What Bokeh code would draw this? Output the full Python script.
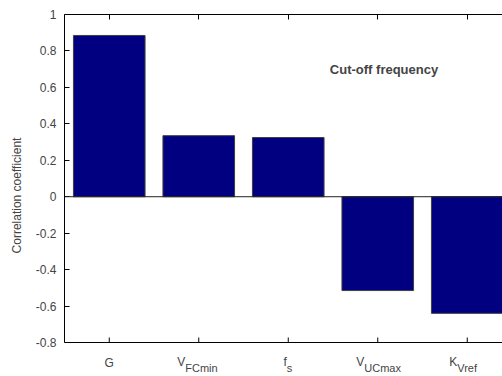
import math
from bokeh.plotting import figure
from bokeh.models import Range1d, FixedTicker, Label, Span
from bokeh.embed import file_html
from bokeh.resources import INLINE

# data
cat_main = ["G", "V", "f", "V", "K"]
cat_sub = ["", "FCmin", "s", "UCmax", "Vref"]
corr = [0.885, 0.335, 0.325, -0.515, -0.64]
x_pos = [1, 2, 3, 4, 5]
y_ticks = [-0.8, -0.6, -0.4, -0.2, 0, 0.2, 0.4, 0.6, 0.8, 1]
y_labels = ["-0.8", "-0.6", "-0.4", "-0.2", "0", "0.2", "0.4", "0.6", "0.8", "1"]
title_text = "Cut-off frequency"
y_title = "Correlation coefficient"

FONT = "Liberation Sans"

W, H = 502, 376
LEFT, TOP, AXIS_BOTTOM_PX = 64, 14, 342          # pixel layout of the axes box
y_min, y_max = y_ticks[0], y_ticks[-1]
px_per_unit = (AXIS_BOTTOM_PX - TOP) / (y_max - y_min)
y_lo = y_min - (H - AXIS_BOTTOM_PX) / px_per_unit   # extend frame to hold tick labels
px_per_cat = 89.5
x_hi = 0.5 + (W - LEFT) / px_per_cat

p = figure(width=W, height=H, output_backend="svg", toolbar_location=None,
           x_range=Range1d(0.5, x_hi), y_range=Range1d(y_lo, y_max),
           x_axis_location="above",
           min_border_left=LEFT, min_border_right=0, min_border_top=TOP, min_border_bottom=0)
p.outline_line_color = None
p.grid.visible = False
p.background_fill_color = "white"
p.border_fill_color = "white"

p.vbar(x=x_pos, top=corr, bottom=0, width=0.8, fill_color="#000080",
       line_color="#404040", line_width=1)
p.add_layout(Span(location=0, dimension="width", line_color="#202020", line_width=1))

# bottom box line and inward ticks
p.add_layout(Span(location=y_min, dimension="width", line_color="black", line_width=1))
p.ray(x=x_pos, y=[y_min] * len(x_pos), length=5, length_units="screen",
      angle=math.pi / 2, line_color="black", line_width=1)

# y axis
ya = p.yaxis[0]
ya.ticker = FixedTicker(ticks=y_ticks)
ya.bounds = (y_min, y_max)
ya.major_label_overrides = {t: l for t, l in zip(y_ticks, y_labels)}
ya.minor_tick_line_color = None
ya.major_tick_in = 5
ya.major_tick_out = 0
ya.major_label_standoff = 8
ya.major_label_text_font = FONT
ya.major_label_text_font_size = "12px"
ya.axis_label = y_title
ya.axis_label_text_font = FONT
ya.axis_label_text_font_size = "12px"
ya.axis_label_text_font_style = "normal"
ya.axis_label_standoff = 9
ya.axis_line_color = "black"
ya.major_tick_line_color = "black"

# top x axis (box line)
ta = p.xaxis[0]
ta.ticker = FixedTicker(ticks=x_pos)
ta.major_label_overrides = {x: " " for x in x_pos}
ta.major_label_text_font_size = "1px"
ta.minor_tick_line_color = None
ta.major_tick_in = 5
ta.major_tick_out = 0
ta.axis_line_color = "black"
ta.major_tick_line_color = "black"

# x tick labels with subscripts
for x, m, s in zip(x_pos, cat_main, cat_sub):
    w_main = 4 if m == "f" else 8
    w_sub = 7 * len(s)
    shift = (w_main - w_sub) / 2
    if s:
        p.add_layout(Label(x=x, y=y_min, text=m, y_offset=-19,
                           text_align="right", text_baseline="middle", x_offset=shift,
                           text_font=FONT, text_font_size="12px"))
        p.add_layout(Label(x=x, y=y_min, text=s, y_offset=-25,
                           text_align="left", text_baseline="middle", x_offset=shift,
                           text_font=FONT, text_font_size="11px"))
    else:
        p.add_layout(Label(x=x, y=y_min, text=m, y_offset=-20,
                           text_align="center", text_baseline="middle",
                           text_font=FONT, text_font_size="12px"))

p.add_layout(Label(x=4.07, y=0.70, text=title_text, text_align="center",
                   text_baseline="middle", text_font=FONT, text_font_size="13px",
                   text_font_style="bold"))

open("out.html", "w").write(file_html(p, INLINE))
